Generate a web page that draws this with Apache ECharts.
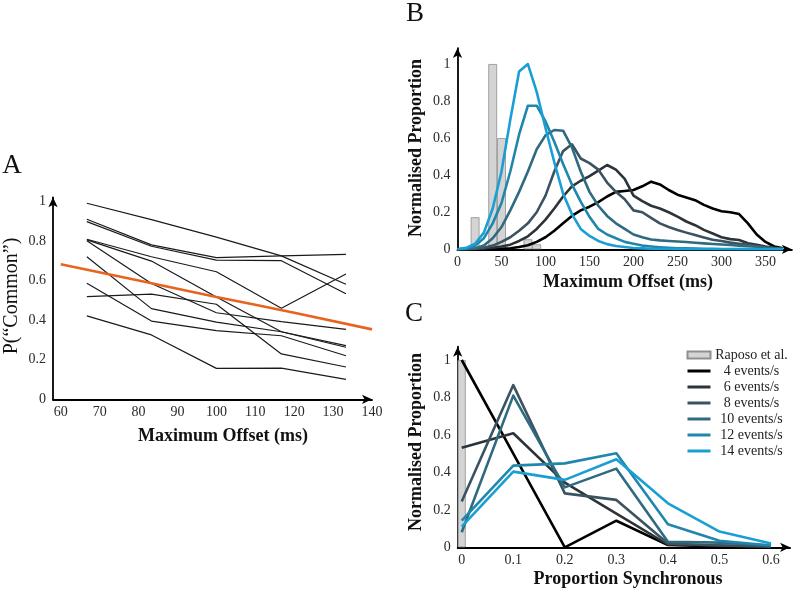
<!DOCTYPE html>
<html><head><meta charset="utf-8">
<script src="https://cdn.jsdelivr.net/npm/echarts@6/dist/echarts.min.js"></script>
<style>html,body{margin:0;padding:0;background:#fff}#c{width:800px;height:590px}</style>
</head><body><div id="c"></div>
<script>
// ---------- Panel A data ----------
const offsetsA = [66.7, 83.3, 100, 116.7, 133.3];
const participantsA = [
  [0.99, 0.907, 0.819, 0.724, 0.581],
  [0.909, 0.78, 0.715, 0.724, 0.732],
  [0.897, 0.773, 0.703, 0.70, 0.533],
  [0.808, 0.72, 0.644, 0.46, 0.633],
  [0.805, 0.698, 0.517, 0.341, 0.263],
  [0.80, 0.585, 0.437, 0.392, 0.353],
  [0.72, 0.458, 0.39, 0.341, 0.271],
  [0.586, 0.395, 0.347, 0.321, 0.22],
  [0.518, 0.531, 0.48, 0.229, 0.163],
  [0.421, 0.325, 0.156, 0.157, 0.101]
];
const fitOffsetsA = [60, 80, 100, 120, 140];
const fitValuesA = [0.682, 0.60, 0.517, 0.437, 0.353];
const ticksAx = [60, 70, 80, 90, 100, 110, 120, 130, 140];
const ticksAy = [0, 0.2, 0.4, 0.6, 0.8, 1];

// ---------- Panel B data ----------
const offsetsB = [0,10,20,30,40,50,60,70,80,90,100,110,120,130,140,150,160,170,180,190,200,210,220,230,240,250,260,270,280,290,300,310,320,330,340,350,360,370];
const rate4B  = [0,0,0,0.001,0.002,0.003,0.006,0.012,0.022,0.04,0.065,0.1,0.14,0.18,0.21,0.23,0.255,0.285,0.31,0.315,0.32,0.34,0.365,0.35,0.32,0.295,0.28,0.265,0.24,0.22,0.205,0.2,0.19,0.14,0.08,0.04,0.015,0.005];
const rate6B  = [0,0.001,0.002,0.004,0.008,0.015,0.025,0.045,0.07,0.11,0.16,0.22,0.285,0.34,0.37,0.395,0.425,0.455,0.43,0.38,0.29,0.26,0.235,0.22,0.2,0.176,0.15,0.13,0.105,0.085,0.065,0.055,0.05,0.033,0.025,0.015,0.008,0.003];
const rate8B  = [0,0.001,0.003,0.008,0.02,0.04,0.065,0.1,0.14,0.2,0.29,0.42,0.53,0.567,0.49,0.465,0.43,0.36,0.31,0.27,0.21,0.2,0.17,0.14,0.12,0.104,0.09,0.077,0.064,0.052,0.045,0.036,0.03,0.024,0.017,0.01,0.006,0.003];
const rate10B = [0,0.002,0.006,0.02,0.06,0.12,0.21,0.31,0.42,0.54,0.615,0.644,0.64,0.55,0.42,0.31,0.235,0.18,0.14,0.11,0.08,0.065,0.053,0.048,0.045,0.042,0.039,0.035,0.032,0.029,0.026,0.023,0.02,0.017,0.014,0.01,0.006,0.003];
const rate12B = [0,0.005,0.02,0.06,0.14,0.25,0.42,0.62,0.775,0.775,0.69,0.58,0.46,0.35,0.257,0.175,0.11,0.08,0.06,0.04,0.03,0.02,0.015,0.011,0.008,0.006,0.005,0.004,0.003,0.003,0.002,0.002,0.001,0.001,0.001,0,0,0];
const rate14B = [0,0.008,0.03,0.09,0.22,0.42,0.70,0.96,1.0,0.85,0.655,0.47,0.30,0.19,0.11,0.072,0.045,0.028,0.018,0.012,0.007,0.005,0.003,0.002,0.002,0.001,0.001,0.001,0,0,0,0,0,0,0,0,0,0];
const raposoOffsetsB = [20, 40, 50, 80, 90];
const raposoValuesB = [0.173, 1.0, 0.6, 0.054, 0.027];
const ticksBx = [0, 50, 100, 150, 200, 250, 300, 350];
const ticksBy = [0, 0.2, 0.4, 0.6, 0.8, 1];

// ---------- Panel C data ----------
const syncC = [0, 0.1, 0.2, 0.3, 0.4, 0.5, 0.6];
const rate4C  = [1.0, 0.5, 0.0, 0.142, 0.012, 0.004, 0.0];
const rate6C  = [0.532, 0.609, 0.345, 0.18, 0.015, 0.01, 0.003];
const rate8C  = [0.244, 0.866, 0.288, 0.253, 0.02, 0.01, 0.005];
const rate10C = [0.08, 0.81, 0.32, 0.42, 0.03, 0.025, 0.01];
const rate12C = [0.142, 0.436, 0.448, 0.502, 0.123, 0.035, 0.01];
const rate14C = [0.11, 0.404, 0.36, 0.47, 0.235, 0.084, 0.02];
const raposoSyncC = [0];
const raposoValuesC = [1.0];
const ticksCx = [0, 0.1, 0.2, 0.3, 0.4, 0.5, 0.6];
const ticksCy = [0, 0.2, 0.4, 0.6, 0.8, 1];

const rateNames = ['4 events/s', '6 events/s', '8 events/s', '10 events/s', '12 events/s', '14 events/s'];
const rateColors = ['#000000', '#2d3439', '#3b5360', '#2f6b80', '#1f86ad', '#1a9fd5'];

// ---------- build ----------
const FONT = '"Liberation Serif", "Times New Roman", serif';
const zip = (xs, ys) => xs.map((x, i) => [x, ys[i]]);

function mkAxis(gridIndex, min, max, ticks, isX) {
  return {
    gridIndex, type: 'value', min, max,
    axisLine: { show: true, onZero: false, lineStyle: { color: '#000', width: 1.8 }, symbol: ['none', 'arrow'], symbolSize: [7, 10] },
    axisTick: { show: false },
    splitLine: { show: false },
    axisLabel: {
      customValues: ticks, fontFamily: FONT, fontSize: 14, color: '#2a2a2a',
      margin: isX ? 6 : 7,
      formatter: v => String(+v.toFixed(2))
    }
  };
}

const series = [];
// Panel A
participantsA.forEach((p, i) => series.push({
  type: 'line', xAxisIndex: 0, yAxisIndex: 0, data: zip(offsetsA, p), symbol: 'none',
  lineStyle: { color: '#1a1a1a', width: 1.2 }, z: 2, silent: true
}));
series.push({
  type: 'line', xAxisIndex: 0, yAxisIndex: 0, data: zip(fitOffsetsA, fitValuesA), symbol: 'none', smooth: true,
  lineStyle: { color: '#e8641e', width: 2.6 }, z: 4
});
// Panel B bars
series.push({
  name: 'Raposo et al.', type: 'bar', xAxisIndex: 1, yAxisIndex: 1, data: zip(raposoOffsetsB, raposoValuesB),
  barWidth: 8.8, itemStyle: { color: '#d4d4d4', borderColor: '#8f8f8f', borderWidth: 0.8 }, z: 1
});
const ratesB = [rate4B, rate6B, rate8B, rate10B, rate12B, rate14B];
ratesB.forEach((r, i) => series.push({
  name: rateNames[i], type: 'line', xAxisIndex: 1, yAxisIndex: 1, data: zip(offsetsB, r), symbol: 'none',
  lineStyle: { color: rateColors[i], width: 2.6, join: 'round' }, itemStyle: { color: rateColors[i] }, z: 3
}));
// Panel C
series.push({
  name: 'Raposo et al.', type: 'bar', xAxisIndex: 2, yAxisIndex: 2, data: zip(raposoSyncC, raposoValuesC),
  barWidth: 8, itemStyle: { color: '#d4d4d4', borderColor: '#8f8f8f', borderWidth: 0.8 }, z: 1
});
const ratesC = [rate4C, rate6C, rate8C, rate10C, rate12C, rate14C];
ratesC.forEach((r, i) => series.push({
  name: rateNames[i], type: 'line', xAxisIndex: 2, yAxisIndex: 2, data: zip(syncC, r), symbol: 'none',
  lineStyle: { color: rateColors[i], width: 2.6, join: 'round' }, itemStyle: { color: rateColors[i] }, z: 3
}));

function txt(x, y, text, size, weight, rot) {
  return {
    type: 'text', x, y, rotation: rot || 0,
    style: { x: 0, y: 0, text, font: (weight || 'normal') + ' ' + size + 'px ' + FONT, fill: '#111', align: 'center', verticalAlign: 'middle' }
  };
}

const legendData = [{ name: 'Raposo et al.', icon: 'rect' }].concat(
  rateNames.map(n => ({ name: n, itemStyle: { opacity: 0 }, lineStyle: { width: 3 } }))
);

const option = {
  animation: false,
  backgroundColor: '#fff',
  grid: [
    { left: 53, top: 197.3, width: 319, height: 202 },
    { left: 457.5, top: 48.1, width: 334.4, height: 201.2 },
    { left: 457.7, top: 346.7, width: 332.4, height: 200.6 }
  ],
  xAxis: [
    mkAxis(0, 58, 140, ticksAx, true),
    mkAxis(1, 0, 380, ticksBx, true),
    mkAxis(2, -0.0078, 0.637, ticksCx, true)
  ],
  yAxis: [
    mkAxis(0, 0, 1.02, ticksAy, false),
    mkAxis(1, 0, 1.086, ticksBy, false),
    mkAxis(2, 0, 1.071, ticksCy, false)
  ],
  legend: {
    orient: 'vertical', left: 686, top: 348, padding: 0, itemWidth: 23, itemHeight: 7, itemGap: 2,
    data: legendData,
    formatter: n => '{t|' + n + '}',
    textStyle: { rich: { t: { width: 72, align: 'center', fontFamily: FONT, fontSize: 14, lineHeight: 14, color: '#222' } } }
  },
  graphic: [
    txt(12, 166, 'A', 27),
    txt(415, 14, 'B', 27),
    txt(414, 314, 'C', 27),
    txt(223, 436, 'Maximum Offset (ms)', 18, 'bold'),
    txt(12, 296, 'P(“Common”)', 20, 'normal', Math.PI / 2),
    txt(628, 282, 'Maximum Offset (ms)', 18, 'bold'),
    txt(416, 148, 'Normalised Proportion', 18, 'bold', Math.PI / 2),
    txt(628, 579, 'Proportion Synchronous', 18, 'bold'),
    txt(416, 442, 'Normalised Proportion', 18, 'bold', Math.PI / 2)
  ],
  series
};

const chart = echarts.init(document.getElementById('c'), null, { renderer: 'canvas' });
chart.setOption(option);
</script></body></html>
